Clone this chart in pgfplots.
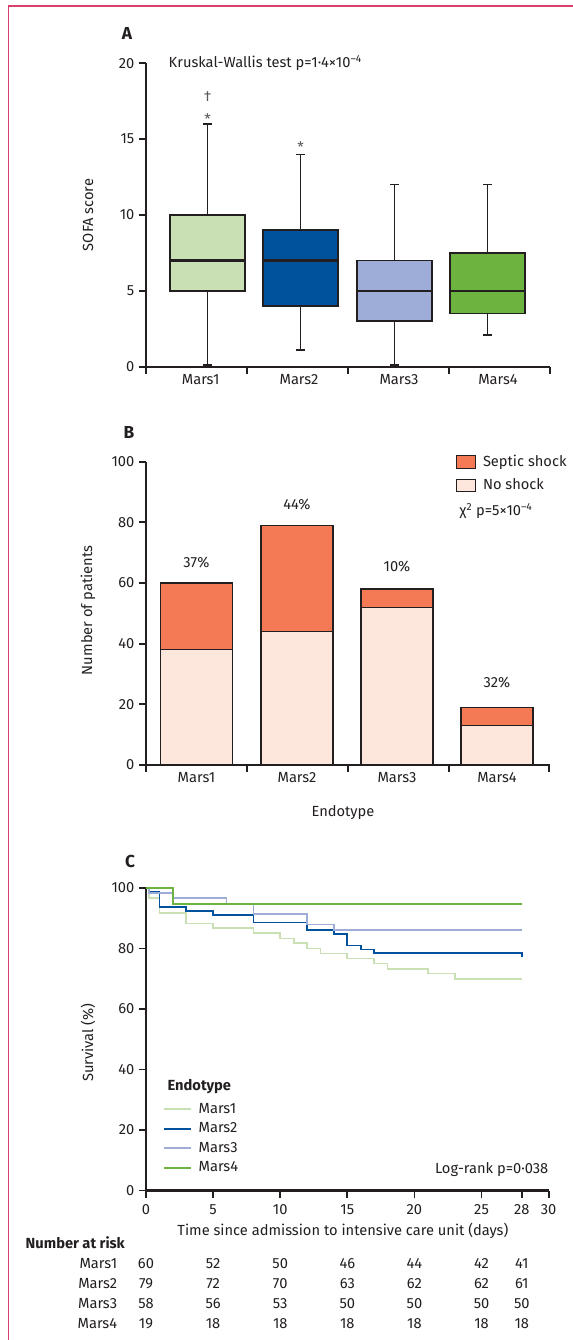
\documentclass[border=0pt]{standalone}
\usepackage{pgfplots}
\pgfplotsset{compat=1.18}
\usepgfplotslibrary{statistics}
\usepackage{fontspec}
\setmainfont{Fira Sans}
\definecolor{txt}{HTML}{231F20}
\definecolor{mA}{HTML}{C9DFB4}
\definecolor{mB}{HTML}{00529C}
\definecolor{mC}{HTML}{9DADD7}
\definecolor{mD}{HTML}{6CB33F}
\definecolor{shock}{HTML}{F47A55}
\definecolor{noshock}{HTML}{FDE6DC}
\definecolor{frame}{HTML}{D8406E}
\newcommand\f{\fontsize{11pt}{13.2pt}\selectfont}
\newcommand\fl{\bfseries\fontsize{13pt}{15pt}\selectfont}

\pgfplotsset{
  panel/.style={
    scale only axis,
    anchor=south west,
    axis lines*=left,
    axis line style={line width=1.6pt, txt},
    tick style={line width=1.4pt, txt},
    tick align=outside,
    major tick length=5.25pt,
    clip=false,
    /pgf/number format/assume math mode=true,
    tick label style={font=\f, text=txt},
    xticklabel style={yshift=-2pt},
    label style={font=\f, text=txt},
    every axis y label/.style={rotate=90, anchor=center},
  }
}

\begin{document}
\begin{tikzpicture}[font=\f, text=txt]
\useasboundingbox (0,0) rectangle (429pt,-1005pt);
\draw[frame, line width=1.1pt] (6.4pt,-1006pt) -- (6.4pt,-4.4pt) -- (430pt,-4.4pt);

% ---------------- Panel A ----------------
\begin{axis}[panel,
  at={(109.5pt,-275pt)},
  width=303pt, height=227.5pt,
  xmin=146, xmax=550, ymin=0, ymax=20,
  ytick={0,5,10,15,20},
  xtick={146,247.3,348,448.7,550}, xticklabels={},
  extra x ticks={200.7,299,399,498},
  extra x tick labels={Mars1,Mars2,Mars3,Mars4},
  extra x tick style={major tick length=0pt},
  ylabel={SOFA score},
  ylabel style={at={(axis description cs:-0.1436,0.5)}},
  boxplot/draw direction=y,
  boxplot/every median/.style={line width=1.6pt, draw=txt},
  boxplot/every whisker/.style={line width=1.1pt, draw=txt},
  boxplot/every box/.style={line width=1.1pt, draw=txt},
]
\addplot[boxplot prepared={draw position=207.5, lower whisker=0.1, lower quartile=5, median=7, upper quartile=10, upper whisker=16, box extend=75, whisker extend=9}, fill=mA, draw=txt, line width=1.1pt]
  coordinates {};
\addplot[boxplot prepared={draw position=300.5, lower whisker=1.1, lower quartile=4, median=7, upper quartile=9, upper whisker=14, box extend=75, whisker extend=9}, fill=mB, draw=txt, line width=1.1pt]
  coordinates {};
\addplot[boxplot prepared={draw position=394.5, lower whisker=0.1, lower quartile=3, median=5, upper quartile=7, upper whisker=12, box extend=75, whisker extend=9}, fill=mC, draw=txt, line width=1.1pt]
  coordinates {};
\addplot[boxplot prepared={draw position=487.5, lower whisker=2.1, lower quartile=3.5, median=5, upper quartile=7.5, upper whisker=12, box extend=75, whisker extend=9}, fill=mD, draw=txt, line width=1.1pt]
  coordinates {};
\node[text=txt!75] at (axis cs:207.5,17.8) {†};
\node[text=txt!75] at (axis cs:207.5,16.3) {*};
\node[text=txt!75] at (axis cs:300.5,14.5) {*};
\node[anchor=west] at (axis cs:164,20) {Kruskal-Wallis test p=1·4×10\textsuperscript{–4}};
\node[font=\fl] at (axis cs:127,22) {A};
\end{axis}

% ---------------- Panel B ----------------
\begin{axis}[panel,
  at={(109.5pt,-573.75pt)},
  width=303pt, height=227.5pt,
  xmin=146, xmax=550, ymin=0, ymax=100,
  ytick={0,20,40,60,80,100},
  xtick={146,247,347.7,448.7,549.3}, xticklabels={},
  extra x ticks={196.5,297,397,497},
  extra x tick labels={Mars1,Mars2,Mars3,Mars4},
  extra x tick style={major tick length=0pt},
  ylabel={Number of patients},
  ylabel style={at={(axis description cs:-0.1436,0.51)}},
  xlabel={Endotype},
  xlabel style={at={(axis description cs:0.4876,-0.158)}, anchor=center},
  ybar stacked, bar width=72,
  reverse legend,
  legend style={at={(axis description cs:0.767,1.03)}, anchor=north west, draw=none, fill=none,
    inner sep=0pt, row sep=3.5pt, column sep=3pt, font=\f, cells={anchor=west}},
]
\addplot[fill=noshock, draw=txt, line width=0.9pt,
  legend image code/.code={\draw[fill=noshock, draw=txt, line width=0.9pt] (0pt,-4.75pt) rectangle (14.25pt,4.75pt);}]
  coordinates {(196.5,38) (297,44) (397,52) (497,13)};
\addlegendentry{No shock}
\addplot[fill=shock, draw=txt, line width=0.9pt,
  legend image code/.code={\draw[fill=shock, draw=txt, line width=0.9pt] (0pt,-4.75pt) rectangle (14.25pt,4.75pt);}]
  coordinates {(196.5,22) (297,35) (397,6) (497,6)};
\addlegendentry{Septic shock}
\node at (axis cs:196.5,66.7) {37\%};
\node at (axis cs:297,86.0) {44\%};
\node at (axis cs:397,65.4) {10\%};
\node at (axis cs:497,27.1) {32\%};
\node[anchor=west] at (axis cs:455,83.8) {χ\textsuperscript{2} p=5×10\textsuperscript{–4}};
\node[font=\fl] at (axis cs:129,109.5) {B};
\end{axis}

% ---------------- Panel C ----------------
\begin{axis}[panel,
  at={(109.5pt,-892.875pt)},
  width=302pt, height=226.9pt,
  xmin=0, xmax=30, ymin=0, ymax=100,
  xtick={0,5,10,15,20,25,28,30},
  ytick={0,20,40,60,80,100},
  ylabel={Survival (\%)},
  ylabel style={at={(axis description cs:-0.144,0.488)}},
  xlabel={Time since admission to intensive care unit (days)},
  xlabel style={at={(axis description cs:0.489,-0.133)}, anchor=center},
  legend style={at={(axis description cs:0.042,0.298)}, anchor=north west, draw=none, fill=none,
    inner sep=0pt, row sep=1.5pt, column sep=3pt, font=\f, cells={anchor=west}},
  legend image code/.code={\draw[#1, line width=1.6pt] (0pt,0pt) -- (20pt,0pt);},
]
\addplot[const plot, color=mA, line width=1.3pt]
  coordinates {(0,100) (0.2,96.7) (1,91.7) (3,88.3) (5,86.7) (8,85) (10,83.3) (11,81.7) (12,80) (13,78.3) (15,76.7) (17,75) (18,73.3) (21,71.7) (23,70) (28,70)};
\addlegendentry{Mars1}
\addplot[const plot, color=mB, line width=1.3pt]
  coordinates {(0,100) (0.2,98.7) (1,93.7) (3,92.4) (5,91.1) (8,88.6) (12,86.1) (14,84.8) (15,81.0) (16,79.7) (17,78.5) (28,78.5) (28,77.2)};
\addlegendentry{Mars2}
\addplot[const plot, color=mC, line width=1.3pt]
  coordinates {(0,100) (0.2,98.3) (2,96.6) (6,94.8) (8,91.4) (12,87.9) (14,86.2) (28,86.2)};
\addlegendentry{Mars3}
\addplot[const plot, color=mD, line width=1.3pt]
  coordinates {(0,100) (2,94.7) (28,94.7)};
\addlegendentry{Mars4}
\node[anchor=west, font=\f\bfseries] at (axis description cs:0.042,0.345) {Endotype};
\node[anchor=east] at (axis description cs:1.0107,0.068) {Log-rank p=0·038};
\node[font=\fl] at (axis cs:-1.19,108.9) {C};
% number at risk
\node[anchor=west, font=\f\bfseries] at (axis cs:-9.31,-17.3) {Number at risk};
\node[anchor=east] at (axis cs:-1.8,-24.1) {Mars1};
\node[anchor=east] at (axis cs:-1.8,-30.9) {Mars2};
\node[anchor=east] at (axis cs:-1.8,-37.5) {Mars3};
\node[anchor=east] at (axis cs:-1.8,-44.1) {Mars4};
\node at (axis cs:0,-24.1) {60};  \node at (axis cs:0,-30.9) {79};  \node at (axis cs:0,-37.5) {58};  \node at (axis cs:0,-44.1) {19};
\node at (axis cs:5,-24.1) {52};  \node at (axis cs:5,-30.9) {72};  \node at (axis cs:5,-37.5) {56};  \node at (axis cs:5,-44.1) {18};
\node at (axis cs:10,-24.1) {50}; \node at (axis cs:10,-30.9) {70}; \node at (axis cs:10,-37.5) {53}; \node at (axis cs:10,-44.1) {18};
\node at (axis cs:15,-24.1) {46}; \node at (axis cs:15,-30.9) {63}; \node at (axis cs:15,-37.5) {50}; \node at (axis cs:15,-44.1) {18};
\node at (axis cs:20,-24.1) {44}; \node at (axis cs:20,-30.9) {62}; \node at (axis cs:20,-37.5) {50}; \node at (axis cs:20,-44.1) {18};
\node at (axis cs:25,-24.1) {42}; \node at (axis cs:25,-30.9) {62}; \node at (axis cs:25,-37.5) {50}; \node at (axis cs:25,-44.1) {18};
\node at (axis cs:28,-24.1) {41}; \node at (axis cs:28,-30.9) {61}; \node at (axis cs:28,-37.5) {50}; \node at (axis cs:28,-44.1) {18};
\end{axis}
\end{tikzpicture}
\end{document}
